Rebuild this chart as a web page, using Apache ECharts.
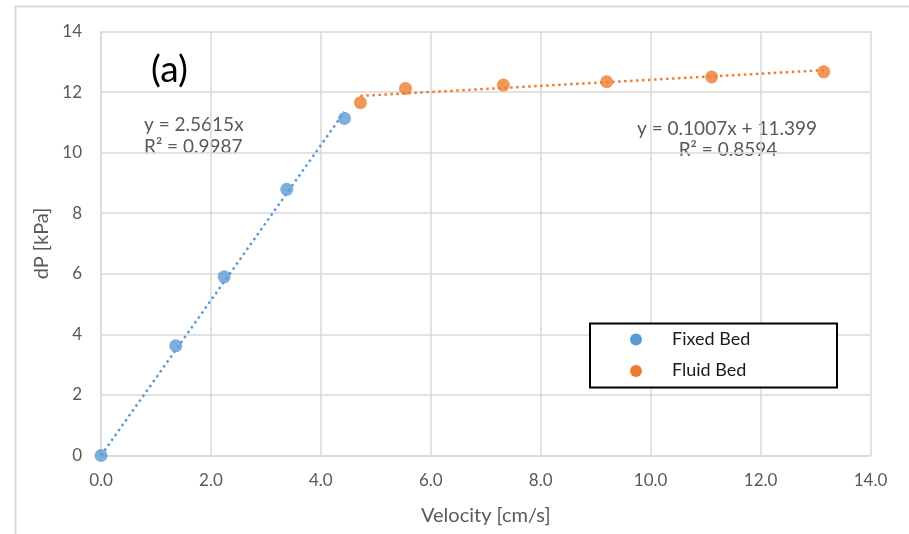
<!DOCTYPE html>
<html>
<head>
<meta charset="utf-8">
<script src="https://cdn.jsdelivr.net/npm/echarts@6/dist/echarts.min.js"></script>
<style>
  html, body { margin: 0; padding: 0; background: #fff; }
  #chart { width: 909px; height: 534px; }
</style>
</head>
<body>
<div id="chart"></div>
<script>
// Measured velocity [cm/s] and pressure drop [kPa]
const fixedVelocity = [0.0, 1.36, 2.24, 3.38, 4.43];
const fixedDP = [0.0, 3.62, 5.90, 8.79, 11.13];
const fluidVelocity = [4.72, 5.54, 7.32, 9.20, 11.11, 13.15];
const fluidDP = [11.65, 12.12, 12.23, 12.34, 12.50, 12.67];

// Linear fits shown on the chart
const fixedSlope = 2.5615, fixedIntercept = 0;
const fluidSlope = 0.1007, fluidIntercept = 11.399;
const fixedEq = ['y = 2.5615x', 'R² = 0.9987'];
const fluidEq = ['y = 0.1007x + 11.399', 'R² = 0.8594'];

const xTicks = { min: 0, max: 14, interval: 2 };
const yTicks = { min: 0, max: 14, interval: 2 };

const seriesNames = ['Fixed Bed', 'Fluid Bed'];
const colors = ['#5B9BD5', '#ED7D31'];

const zip = (xs, ys) => xs.map((x, i) => [x, ys[i]]);
const fitLine = (xs, m, b) => {
  const x0 = Math.min(...xs), x1 = Math.max(...xs);
  return [[x0, m * x0 + b], [x1, m * x1 + b]];
};

const FONT = 'Lato';
const GRID = '#D9D9D9';
const TXT = '#595959';

const chart = echarts.init(document.getElementById('chart'), null, { renderer: 'canvas' });

const eqText = (x, y, text, align) => ({
  type: 'text', x: x, y: y, silent: true,
  style: { text: text, fill: TXT, font: '19px ' + FONT, align: align, verticalAlign: 'middle' }
});

chart.setOption({
  animation: false,
  backgroundColor: '#fff',
  textStyle: { fontFamily: FONT },
  grid: { left: 101, right: 38.5, top: 31.5, bottom: 78.5, containLabel: false },
  xAxis: {
    type: 'value',
    min: xTicks.min, max: xTicks.max, interval: xTicks.interval,
    name: 'Velocity [cm/s]',
    nameLocation: 'middle',
    nameGap: 50,
    nameTextStyle: { color: TXT, fontSize: 20, fontFamily: FONT },
    axisLine: { show: true, lineStyle: { color: GRID, width: 1.5 } },
    axisTick: { show: false },
    axisLabel: { color: TXT, fontSize: 17, margin: 17, fontFamily: FONT,
      formatter: v => v.toFixed(1) },
    splitLine: { show: true, lineStyle: { color: GRID, width: 1.5 } }
  },
  yAxis: {
    type: 'value',
    min: yTicks.min, max: yTicks.max, interval: yTicks.interval,
    name: 'dP [kPa]',
    nameLocation: 'middle',
    nameGap: 49,
    nameTextStyle: { color: TXT, fontSize: 20, fontFamily: FONT },
    axisLine: { show: true, lineStyle: { color: GRID, width: 1.5 } },
    axisTick: { show: false },
    axisLabel: { color: TXT, fontSize: 17, margin: 19, fontFamily: FONT },
    splitLine: { show: true, lineStyle: { color: GRID, width: 1.5 } }
  },
  legend: { show: false },
  series: [
    {
      name: seriesNames[0] + ' fit',
      type: 'line',
      data: fitLine(fixedVelocity, fixedSlope, fixedIntercept),
      showSymbol: false,
      silent: true,
      lineStyle: { color: colors[0], width: 2.5, type: [2.5, 3.5] },
      z: 2
    },
    {
      name: seriesNames[1] + ' fit',
      type: 'line',
      data: fitLine(fluidVelocity, fluidSlope, fluidIntercept),
      showSymbol: false,
      silent: true,
      lineStyle: { color: colors[1], width: 2.5, type: [2.5, 3.5] },
      z: 2
    },
    {
      name: seriesNames[0],
      type: 'scatter',
      data: zip(fixedVelocity, fixedDP),
      symbol: 'circle',
      symbolSize: 13,
      itemStyle: { color: colors[0] },
      z: 3
    },
    {
      name: seriesNames[1],
      type: 'scatter',
      data: zip(fluidVelocity, fluidDP),
      symbol: 'circle',
      symbolSize: 13,
      itemStyle: { color: colors[1] },
      z: 3
    }
  ],
  graphic: [
    // chart frame (left and top edges)
    { type: 'polyline', shape: { points: [[15.5, 534], [15.5, 6.5], [909, 6.5]] },
      style: { stroke: GRID, lineWidth: 2, fill: null }, silent: true },
    // panel tag
    { type: 'text', x: 151, y: 70, silent: true,
      style: { text: '(a)', fill: '#000', font: '37px ' + FONT, verticalAlign: 'middle' } },
    // fit equations
    eqText(144, 124.5, fixedEq[0], 'left'),
    eqText(144, 146.5, fixedEq[1], 'left'),
    eqText(727, 128.5, fluidEq[0], 'center'),
    eqText(728, 150, fluidEq[1], 'center'),
    // legend
    { type: 'rect', shape: { x: 590, y: 323.5, width: 247, height: 64 },
      style: { fill: '#fff', stroke: '#000', lineWidth: 2 }, z: 10 },
    { type: 'circle', shape: { cx: 636, cy: 339.5, r: 6 }, style: { fill: colors[0] }, z: 11 },
    { type: 'circle', shape: { cx: 636, cy: 371, r: 6 }, style: { fill: colors[1] }, z: 11 },
    { type: 'text', x: 672, y: 339, z: 11,
      style: { text: seriesNames[0], fill: '#1a1a1a', font: '18px ' + FONT, verticalAlign: 'middle' } },
    { type: 'text', x: 672, y: 370, z: 11,
      style: { text: seriesNames[1], fill: '#1a1a1a', font: '18px ' + FONT, verticalAlign: 'middle' } }
  ]
});
</script>
</body>
</html>
